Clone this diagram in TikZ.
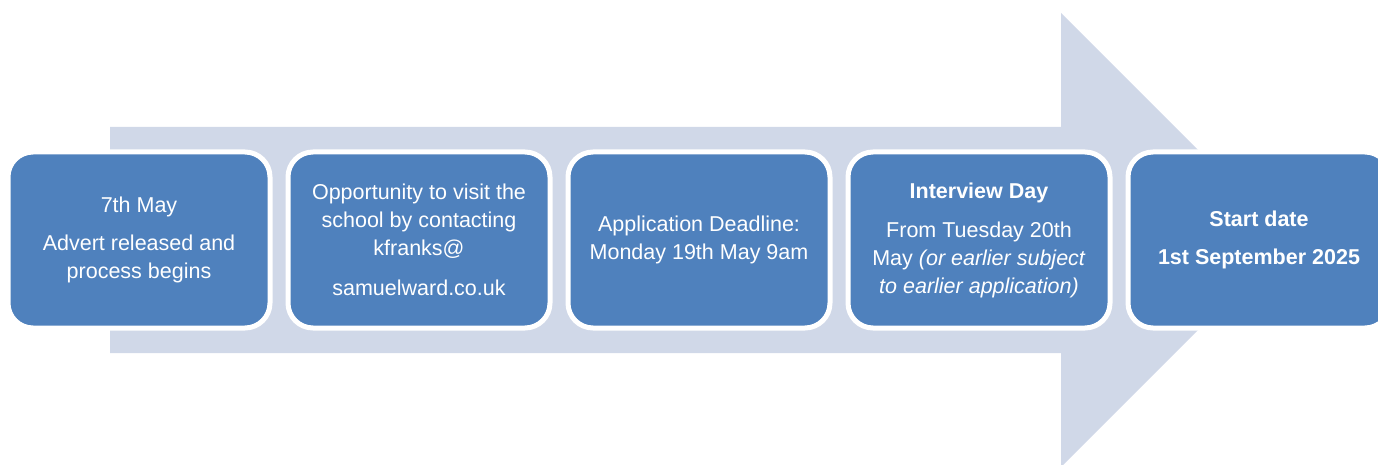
\documentclass[tikz,border=0pt]{standalone}
\usepackage{fontspec}
\setmainfont{Liberation Sans}
\definecolor{arrowfill}{HTML}{D0D8E8}
\definecolor{boxfill}{HTML}{4F81BD}
\begin{document}
\begin{tikzpicture}[x=1pt,y=-1pt,
  stagebox/.style={rectangle, rounded corners=25pt, fill=boxfill, draw=white, line width=5pt,
    minimum width=262pt, minimum height=176pt, inner sep=0pt, text=white, align=center,
    font=\fontsize{21.5}{28}\selectfont},
  bigarrow/.style={fill=arrowfill, draw=none}]
\useasboundingbox (0,0) rectangle (1378,465);
\fill[bigarrow] (110,127) -- (1061,127) -- (1061,13) -- (1288,240) -- (1061,467) -- (1061,353) -- (110,353) -- cycle;
\node[stagebox] (s1) at (139,240) {7th May\\[10pt]Advert released and\\process begins};
\node[stagebox] (s2) at (419,240) {Opportunity to visit the\\school by contacting\\kfranks@\\[12pt]samuelward.co.uk};
\node[stagebox] (s3) at (699,240) {Application Deadline:\\Monday 19th May 9am};
\node[stagebox] (s4) at (979,240) {\textbf{Interview Day}\\[11pt]From Tuesday 20th\\May \textit{(or earlier subject}\\\textit{to earlier application)}};
\node[stagebox] (s5) at (1259,240) {\textbf{Start date}\\[10pt]\textbf{1st September 2025}};
\end{tikzpicture}
\end{document}
